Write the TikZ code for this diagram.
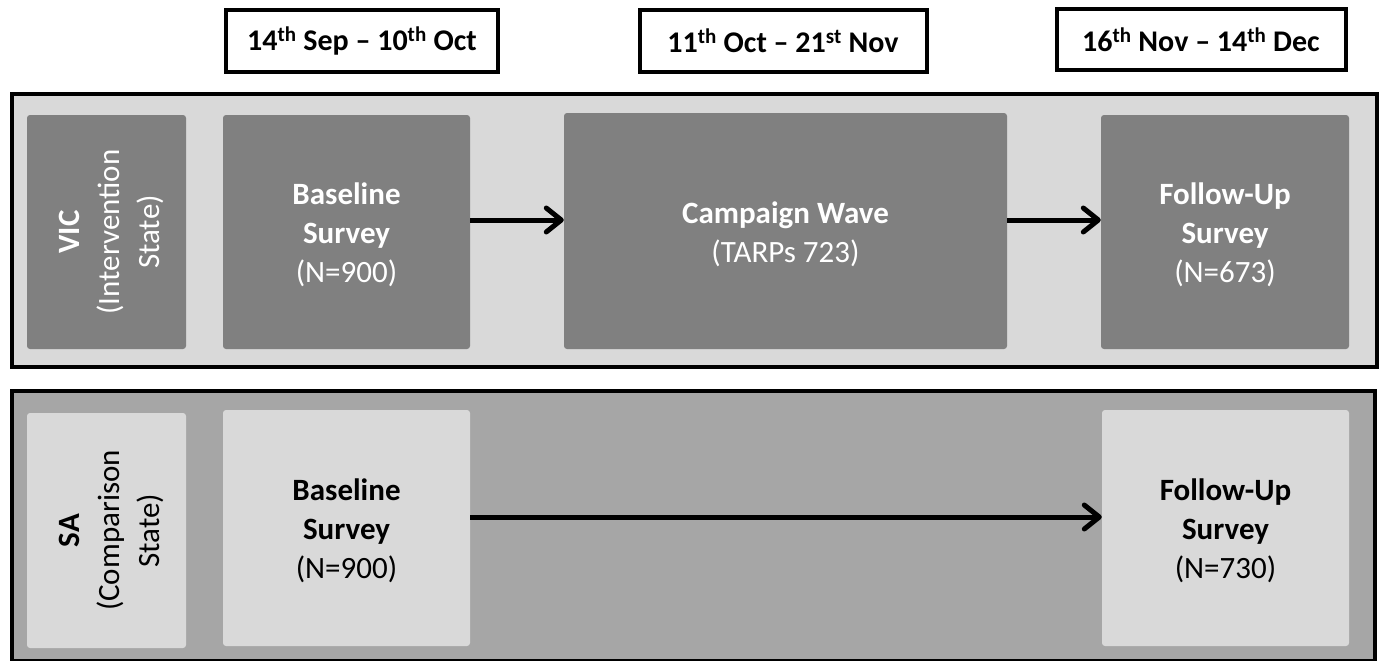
\documentclass[tikz,border=0pt]{standalone}
\usepackage{fontspec}
\setmainfont{Carlito}
\usetikzlibrary{arrows.meta}
\definecolor{lightg}{HTML}{D9D9D9}
\definecolor{midg}{HTML}{A6A6A6}
\definecolor{darkg}{HTML}{808080}
\tikzset{
  panel/.style={draw=black, line width=4pt, anchor=north west, inner sep=0pt},
  datebox/.style={draw=black, line width=4pt, fill=white, inner sep=0pt, font=\fontsize{30}{34}\selectfont\bfseries},
  darkbox/.style={fill=darkg, rounded corners=3pt, inner sep=0pt},
  lightbox/.style={fill=lightg, rounded corners=3pt, inner sep=0pt},
  wtxt/.style={inner sep=0pt, text=white, align=center, font=\fontsize{31}{39}\selectfont, yshift=-3pt},
  btxt/.style={inner sep=0pt, text=black, align=center, font=\fontsize{31}{39}\selectfont, yshift=-3pt},
  vtxt/.style={inner sep=0pt, align=center, rotate=90, font=\fontsize{31}{40}\selectfont},
  flow/.style={line width=5pt, -{Straight Barb[length=15pt,width=24pt,round]}}
}
\begin{document}
\begin{tikzpicture}[x=1pt,y=-1pt]
\useasboundingbox (0,0) rectangle (1379,661);
\node[panel, fill=lightg, minimum width=1365pt, minimum height=273pt] (top) at (10,92) {};
\node[panel, fill=midg, minimum width=1363pt, minimum height=270pt] (bot) at (10,389) {};
\node[datebox, minimum width=272pt, minimum height=62pt] (d1) at (362,41) {14\textsuperscript{th} Sep -- 10\textsuperscript{th} Oct};
\node[datebox, minimum width=287pt, minimum height=62pt] (d2) at (783,41) {11\textsuperscript{th} Oct -- 21\textsuperscript{st} Nov};
\node[datebox, minimum width=289pt, minimum height=61pt] (d3) at (1201,40) {16\textsuperscript{th} Nov -- 14\textsuperscript{th} Dec};
\node[darkbox, minimum width=159pt, minimum height=234pt] (vic) at (106.5,232) {};
\node[vtxt, text=white] (vict) at (111.5,232) {\textbf{VIC}\\(Intervention\\State)};
\node[darkbox, minimum width=247pt, minimum height=234pt] (b1) at (346.5,232) {};
\node[wtxt] (b1t) at (b1.center) {\textbf{Baseline}\\\textbf{Survey}\\(N=900)};
\node[darkbox, minimum width=443pt, minimum height=236pt] (cw) at (785.5,231) {};
\node[wtxt] (cwt) at (cw.center) {\textbf{Campaign Wave}\\(TARPs 723)};
\node[darkbox, minimum width=248pt, minimum height=234pt] (f1) at (1225,232) {};
\node[wtxt] (f1t) at (f1.center) {\textbf{Follow-Up}\\\textbf{Survey}\\(N=673)};
\node[lightbox, minimum width=159pt, minimum height=235pt] (sa) at (106.5,530.5) {};
\node[vtxt, text=black] (sat) at (111.5,530.5) {\textbf{SA}\\(Comparison\\State)};
\node[lightbox, minimum width=247pt, minimum height=236pt] (b2) at (346.5,528) {};
\node[btxt] (b2t) at (b2.center) {\textbf{Baseline}\\\textbf{Survey}\\(N=900)};
\node[lightbox, minimum width=247pt, minimum height=236pt] (f2) at (1225.5,528) {};
\node[btxt] (f2t) at (f2.center) {\textbf{Follow-Up}\\\textbf{Survey}\\(N=730)};
\draw[flow] (b1.east |- 0,220) -- (cw.west |- 0,220);
\draw[flow] (cw.east |- 0,220) -- (f1.west |- 0,220);
\draw[flow] (b2.east |- 0,517) -- (f2.west |- 0,517);
\end{tikzpicture}
\end{document}
